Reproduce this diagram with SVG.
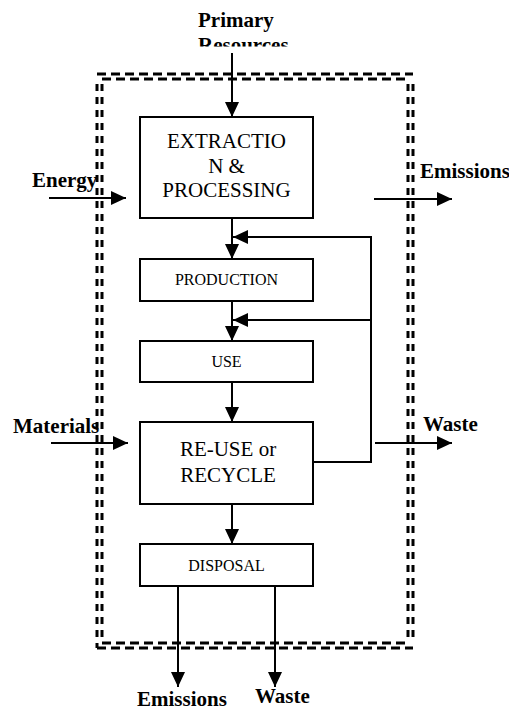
<svg xmlns="http://www.w3.org/2000/svg" width="509" height="710" viewBox="0 0 509 710">
<style>
.box{fill:#fff;stroke:#000;stroke-width:2}
.c{stroke:#000;stroke-width:2;fill:none}
.dh{stroke:#000;stroke-width:3;stroke-dasharray:9,5;fill:none}
.dv{stroke:#000;stroke-width:3;stroke-dasharray:7,6;fill:none}
</style>
<defs>
<marker id="ah" markerUnits="userSpaceOnUse" markerWidth="16" markerHeight="14" refX="15" refY="7" orient="auto">
<path d="M0,0 L15,7 L0,14 Z" fill="#000"/>
</marker>
<clipPath id="topclip"><rect x="0" y="0" width="509" height="46.5"/></clipPath>
</defs>
<rect width="509" height="710" fill="#fff"/>
<g id="boundary">
<line class="dh" x1="97" y1="74" x2="413" y2="74"/>
<line class="dh" x1="102" y1="79" x2="408" y2="79"/>
<line class="dh" x1="97" y1="648" x2="413" y2="648"/>
<line class="dh" x1="102" y1="643" x2="408" y2="643"/>
<line class="dv" x1="97" y1="84" x2="97" y2="648"/>
<line class="dv" x1="102" y1="84" x2="102" y2="643"/>
<line class="dv" x1="408" y1="84" x2="408" y2="643"/>
<line class="dv" x1="413" y1="84" x2="413" y2="640"/>
</g>
<g id="labels" font-family="Liberation Serif" font-weight="bold" font-size="21" fill="#000">
<g clip-path="url(#topclip)">
<text x="198" y="26.5">Primary</text>
<text x="198" y="51.5">Resources</text>
</g>
<text x="32" y="187">Energy</text>
<text x="420" y="178">Emissions</text>
<text x="13" y="433">Materials</text>
<text x="423" y="430.5">Waste</text>
<text x="137" y="706">Emissions</text>
<text x="255" y="703">Waste</text>
</g>
<g id="connectors">
<line class="c" x1="232" y1="53" x2="232" y2="117" marker-end="url(#ah)"/>
<line class="c" x1="49" y1="198" x2="126" y2="198" marker-end="url(#ah)"/>
<line class="c" x1="374" y1="199" x2="452" y2="199" marker-end="url(#ah)"/>
<line class="c" x1="51" y1="443" x2="128" y2="443" marker-end="url(#ah)"/>
<line class="c" x1="375" y1="443" x2="452" y2="443" marker-end="url(#ah)"/>
<line class="c" x1="232" y1="218" x2="232" y2="259" marker-end="url(#ah)"/>
<line class="c" x1="232" y1="301" x2="232" y2="341" marker-end="url(#ah)"/>
<line class="c" x1="232" y1="382" x2="232" y2="422" marker-end="url(#ah)"/>
<line class="c" x1="232" y1="504" x2="232" y2="544" marker-end="url(#ah)"/>
<polyline class="c" points="313,462 371,462 371,237 233,237" marker-end="url(#ah)"/>
<line class="c" x1="371" y1="320" x2="233" y2="320" marker-end="url(#ah)"/>
<line class="c" x1="178" y1="586" x2="178" y2="687" marker-end="url(#ah)"/>
<line class="c" x1="275" y1="586" x2="275" y2="687" marker-end="url(#ah)"/>
</g>
<g id="extraction" font-family="Liberation Serif" text-anchor="middle" fill="#000">
<rect class="box" x="140" y="117" width="173" height="101"/>
<text x="226.5" y="148" font-size="21">EXTRACTIO</text>
<text x="226.5" y="172.5" font-size="21">N &amp;</text>
<text x="226.5" y="197" font-size="21">PROCESSING</text>
</g>
<g id="production" font-family="Liberation Serif" text-anchor="middle" fill="#000">
<rect class="box" x="140" y="259" width="173" height="42"/>
<text x="226.5" y="285" font-size="16">PRODUCTION</text>
</g>
<g id="use" font-family="Liberation Serif" text-anchor="middle" fill="#000">
<rect class="box" x="140" y="341" width="173" height="41"/>
<text x="226.5" y="367" font-size="16">USE</text>
</g>
<g id="reuse" font-family="Liberation Serif" text-anchor="middle" fill="#000">
<rect class="box" x="140" y="422" width="173" height="82"/>
<text x="228" y="456" font-size="21">RE-USE or</text>
<text x="228" y="482" font-size="21">RECYCLE</text>
</g>
<g id="disposal" font-family="Liberation Serif" text-anchor="middle" fill="#000">
<rect class="box" x="140" y="544" width="173" height="42"/>
<text x="226.5" y="571" font-size="16">DISPOSAL</text>
</g>
</svg>
